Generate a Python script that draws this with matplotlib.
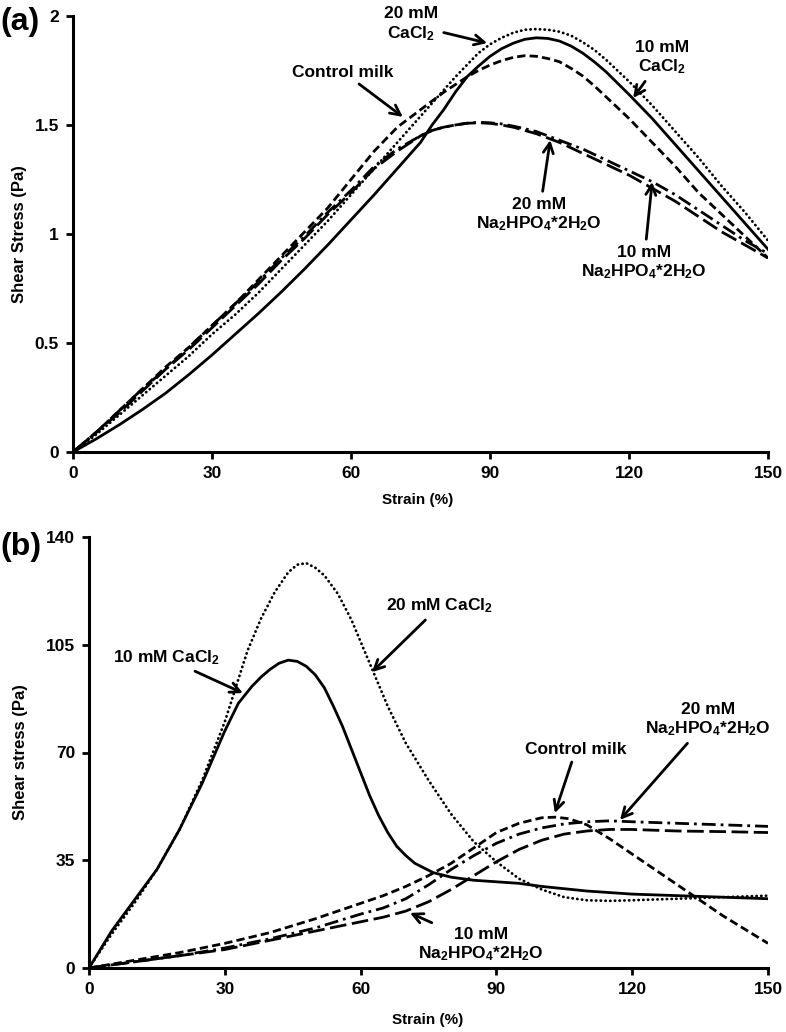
import matplotlib
matplotlib.use("Agg")
import matplotlib.pyplot as plt

plt.rcParams["font.family"] = ["Liberation Sans", "DejaVu Sans"]
plt.rcParams["font.weight"] = "bold"
plt.rcParams["mathtext.fontset"] = "custom"
plt.rcParams["mathtext.rm"] = "Liberation Sans:bold"
plt.rcParams["mathtext.bf"] = "Liberation Sans:bold"
plt.rcParams["mathtext.it"] = "Liberation Sans:bold"

# ---------------- panel (a) data ----------------
strain_a = [0, 5, 10, 15, 20, 25, 30, 35, 40, 45, 50, 55, 60, 65, 70, 75,
            77.5, 80, 82.5, 85, 87.5, 90, 92.5, 95, 97.5, 100, 102.5, 105,
            107.5, 110, 112.5, 115, 120, 125, 130, 135, 140, 145, 150]
ca10_a = [0, 0.06, 0.125, 0.195, 0.27, 0.355, 0.445, 0.54, 0.635, 0.735, 0.84,
          0.95, 1.065, 1.18, 1.30, 1.42, 1.50, 1.57, 1.65, 1.72, 1.77, 1.815,
          1.85, 1.875, 1.893, 1.90, 1.897, 1.885, 1.862, 1.83, 1.79, 1.745,
          1.64, 1.53, 1.41, 1.29, 1.17, 1.05, 0.93]
ca20_a = [0, 0.08, 0.17, 0.26, 0.35, 0.44, 0.54, 0.63, 0.73, 0.84, 0.95, 1.06,
          1.18, 1.30, 1.42, 1.54, 1.60, 1.66, 1.72, 1.775, 1.83, 1.87, 1.90,
          1.923, 1.937, 1.94, 1.937, 1.928, 1.91, 1.88, 1.845, 1.80, 1.70,
          1.59, 1.47, 1.35, 1.22, 1.10, 0.97]
control_a = [0, 0.09, 0.19, 0.29, 0.39, 0.48, 0.58, 0.68, 0.79, 0.90, 1.01,
             1.12, 1.25, 1.38, 1.49, 1.57, 1.61, 1.65, 1.685, 1.72, 1.75,
             1.775, 1.795, 1.81, 1.818, 1.815, 1.805, 1.79, 1.76, 1.725, 1.68,
             1.63, 1.53, 1.42, 1.31, 1.19, 1.09, 0.99, 0.89]
na20_a = [0, 0.09, 0.19, 0.29, 0.38, 0.48, 0.58, 0.68, 0.78, 0.89, 0.99, 1.10,
          1.20, 1.31, 1.39, 1.45, 1.475, 1.49, 1.50, 1.508, 1.512, 1.51, 1.505,
          1.495, 1.483, 1.47, 1.45, 1.43, 1.41, 1.39, 1.365, 1.34, 1.29, 1.24,
          1.18, 1.11, 1.04, 0.97, 0.91]
na10_a = [0, 0.09, 0.18, 0.28, 0.38, 0.47, 0.57, 0.67, 0.77, 0.88, 0.98, 1.09,
          1.19, 1.30, 1.38, 1.45, 1.475, 1.49, 1.50, 1.508, 1.51, 1.508, 1.50,
          1.49, 1.475, 1.46, 1.44, 1.42, 1.395, 1.37, 1.345, 1.32, 1.27, 1.21,
          1.15, 1.08, 1.01, 0.95, 0.89]

# ---------------- panel (b) data ----------------
ca10_b_x = [0, 5, 10, 15, 20, 25, 30, 33, 36, 38, 40, 42, 44, 46, 48, 50, 52,
            54, 56, 58, 60, 62, 64, 66, 68, 70, 72, 76, 80, 85, 90, 95, 100,
            110, 120, 130, 140, 150]
ca10_b = [0, 12, 22, 32, 45, 60, 77, 86, 91.5, 94.5, 97, 99, 100, 99.6, 98,
          95.2, 91, 85, 78.5, 71, 63.5, 56, 49.5, 44, 39.5, 36.5, 34, 31, 29.5,
          28.5, 28, 27.5, 26.5, 25, 24, 23.5, 23, 22.5]
ca20_b_x = [0, 5, 10, 15, 20, 25, 30, 35, 38, 41, 44, 46, 48, 50, 52, 55, 58,
            62, 66, 70, 75, 80, 85, 90, 95, 100, 105, 110, 115, 120, 130, 140,
            150]
ca20_b = [0, 11, 21, 32, 45, 61, 80, 103, 113.5, 122, 128.5, 131, 131.5, 130,
          127.5, 121.5, 113, 99, 85, 73, 61, 50, 41, 34.5, 29, 25.5, 23, 22,
          21.8, 22, 22.5, 23, 23.5]
control_b_x = [0, 10, 20, 30, 40, 50, 60, 65, 70, 75, 80, 85, 90, 95, 100, 103,
               106, 110, 115, 120, 125, 130, 135, 140, 145, 150]
control_b = [0, 2.5, 5, 8, 11.5, 16, 21, 23.5, 26.5, 30, 34, 39, 44, 47, 48.8,
             49, 48.5, 46.5, 42, 37, 32, 27, 22, 17, 12.5, 8]
na_b_x = [0, 10, 20, 30, 40, 50, 60, 65, 70, 75, 80, 85, 90, 95, 100, 105, 110,
          115, 120, 130, 140, 150]
na20_b = [0, 2, 4, 6.5, 9.5, 13, 17.5, 19.5, 22.5, 27, 32, 36.5, 40.5, 43.5,
          45.5, 46.8, 47.5, 47.8, 47.5, 47, 46.5, 46]
na10_b = [0, 2, 4, 6, 9, 12, 15, 16.5, 18.5, 21.5, 25.5, 30, 34.5, 38.5, 41.5,
          43.5, 44.5, 45, 45, 44.5, 44.3, 44]

dotted = (0, (0.1, 1.6))
dashed = (0, (3, 1.5))
dashdot = (0, (5, 1.8, 1, 1.8))
longdash = (0, (6, 2))

fig = plt.figure(figsize=(7.86, 10.32), dpi=100)
ax1 = fig.add_axes([73 / 786, 1 - 452 / 1032, 695 / 786, 436 / 1032])
ax2 = fig.add_axes([89 / 786, 1 - 968 / 1032, 679 / 786, 431 / 1032])

lw = 2
style = dict(color="black", lw=lw, solid_joinstyle="round")
ax1.plot(strain_a, ca10_a, ls="-", **style)
ax1.plot(strain_a, ca20_a, ls=dotted, dash_capstyle="round", **style)
ax1.plot(strain_a, control_a, ls=dashed, **style)
ax1.plot(strain_a, na20_a, ls=dashdot, **style)
ax1.plot(strain_a, na10_a, ls=longdash, **style)

ax2.plot(ca10_b_x, ca10_b, ls="-", **style)
ax2.plot(ca20_b_x, ca20_b, ls=dotted, dash_capstyle="round", **style)
ax2.plot(control_b_x, control_b, ls=dashed, **style)
ax2.plot(na_b_x, na20_b, ls=dashdot, **style)
ax2.plot(na_b_x, na10_b, ls=longdash, **style)

for ax in (ax1, ax2):
    for s in ("top", "right"):
        ax.spines[s].set_visible(False)
    for s in ("left", "bottom"):
        ax.spines[s].set_linewidth(2.2)
    ax.set_xlim(0, 150)
    ax.set_xticks([0, 30, 60, 90, 120, 150])
    ax.tick_params(direction="out", length=5, width=2, labelsize=12.5, pad=5)
    for lab in ax.get_xticklabels() + ax.get_yticklabels():
        lab.set_fontweight("bold")

ax1.set_ylim(0, 2)
ax1.set_yticks([0, 0.5, 1, 1.5, 2])
ax1.set_yticklabels(["0", "0.5", "1", "1.5", "2"], fontweight="bold")
ax2.set_ylim(0, 140)
ax2.set_yticks([0, 35, 70, 105, 140])
ax2.set_yticklabels(["0", "35", "70", "105", "140"], fontweight="bold")

na = "Na$_2$HPO$_4$*2H$_2$O"
arrow = dict(arrowstyle="->", lw=2, color="black", mutation_scale=18,
             shrinkA=2, shrinkB=0)
fs = 12.5

# panel (a) annotations
ax1.annotate("20 mM\nCaCl$_2$", xy=(89.4, 1.876), xytext=(73, 1.96),
             ha="center", va="center", fontsize=fs, fontweight="bold",
             arrowprops=arrow, annotation_clip=False)
ax1.annotate("Control milk", xy=(71.2, 1.537), xytext=(58.3, 1.743),
             ha="center", va="center", fontsize=fs, fontweight="bold",
             arrowprops=arrow)
ax1.annotate("10 mM\nCaCl$_2$", xy=(120.9, 1.624), xytext=(127.1, 1.807),
             ha="center", va="center", fontsize=fs, fontweight="bold",
             arrowprops=arrow)
ax1.annotate("20 mM\n" + na, xy=(103, 1.431), xytext=(100.6, 1.087),
             ha="center", va="center", fontsize=fs, fontweight="bold",
             arrowprops=arrow)
ax1.annotate("10 mM\n" + na, xy=(125, 1.239), xytext=(123.2, 0.867),
             ha="center", va="center", fontsize=fs, fontweight="bold",
             arrowprops=arrow)

# panel (b) annotations
ax2.annotate("10 mM CaCl$_2$", xy=(34, 89.3), xytext=(17, 100.7),
             ha="center", va="center", fontsize=fs, fontweight="bold",
             arrowprops=arrow)
ax2.annotate("20 mM CaCl$_2$", xy=(62.5, 96.1), xytext=(77.5, 117.6),
             ha="center", va="center", fontsize=fs, fontweight="bold",
             arrowprops=arrow)
ax2.annotate("Control milk", xy=(102.9, 50.3), xytext=(107.6, 71.1),
             ha="center", va="center", fontsize=fs, fontweight="bold",
             arrowprops=arrow)
ax2.annotate("20 mM\n" + na, xy=(117.3, 48.1), xytext=(136.7, 80.5),
             ha="center", va="center", fontsize=fs, fontweight="bold",
             arrowprops=arrow)
ax2.annotate("10 mM\n" + na, xy=(70.9, 17.9), xytext=(86.6, 7.5),
             ha="center", va="center", fontsize=fs, fontweight="bold",
             arrowprops=arrow)

# axis labels and panel letters
fig.text(20 / 786, 1 - 234 / 1032, "Shear Stress (Pa)", rotation=90,
         ha="center", va="center", fontsize=12, fontweight="bold")
fig.text(418 / 786, 1 - 500 / 1032, "Strain (%)", ha="center", va="center",
         fontsize=11, fontweight="bold")
fig.text(21 / 786, 1 - 752 / 1032, "Shear stress (Pa)", rotation=90,
         ha="center", va="center", fontsize=12, fontweight="bold")
fig.text(428 / 786, 1 - 1020 / 1032, "Strain (%)", ha="center", va="center",
         fontsize=11, fontweight="bold")
fig.text(0.0, 1 - 22 / 1032, "(a)", ha="left", va="center", fontsize=23,
         fontweight="bold")
fig.text(0.0, 1 - 547 / 1032, "(b)", ha="left", va="center", fontsize=23,
         fontweight="bold")

fig.savefig("out.png", dpi=100)
